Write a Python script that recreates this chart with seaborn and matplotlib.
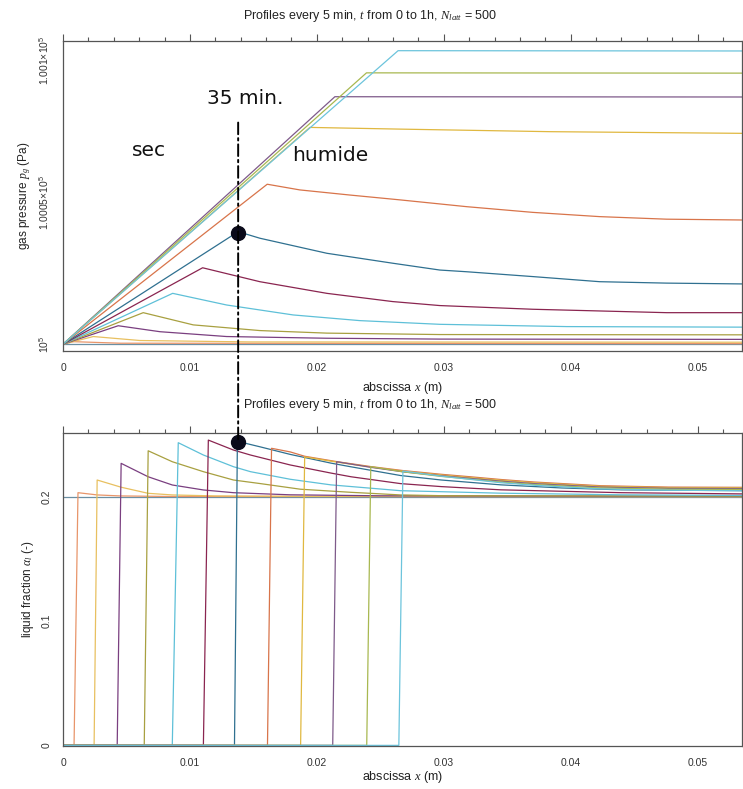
import matplotlib
matplotlib.use("Agg")
import matplotlib.pyplot as plt
from matplotlib.patches import ConnectionPatch
from matplotlib.ticker import FixedLocator, MultipleLocator
import pandas as pd
import seaborn as sns

# ---------------------------------------------------------------- data
times_min = [0, 5, 10, 15, 20, 25, 30, 35, 40, 45, 50, 55, 60]

profile_colors = ["#6b8fa3", "#e8956a", "#e8c060", "#7a3f80", "#a8a040",
                  "#5ec0d8", "#8a2550", "#2f7090", "#d8744a", "#e0b840",
                  "#7e5a8a", "#a8b850", "#6cc4dc"]

# gas pressure profiles p_g(x), one list per time
gas_x = [
    [0, 0.0538],
    [0, 0.00079, 0.00449, 0.0538],
    [0, 0.00239, 0.00606, 0.01472, 0.0538],
    [0, 0.00435, 0.00764, 0.01289, 0.02076, 0.02969, 0.0538],
    [0, 0.00632, 0.01026, 0.01551, 0.02079, 0.02969, 0.0538],
    [0, 0.00864, 0.01289, 0.01813, 0.02339, 0.02969, 0.03969, 0.0538],
    [0, 0.01100, 0.01551, 0.02079, 0.02598, 0.02969, 0.03701, 0.04756, 0.0538],
    [0, 0.01380, 0.01551, 0.02079, 0.02598, 0.02969, 0.03181, 0.03701, 0.04228, 0.04756, 0.0538],
    [0, 0.01609, 0.01866, 0.02260, 0.02654, 0.03181, 0.03701, 0.04228, 0.04756, 0.0538],
    [0, 0.01945, 0.02654, 0.03835, 0.0538],
    [0, 0.02142, 0.0538],
    [0, 0.02391, 0.0538],
    [0, 0.02640, 0.0538],
]
gas_p = [
    [100000.0, 100000.0],
    [100000.0, 100000.9, 100000.35, 100000.2],
    [100000.0, 100002.7, 100001.3, 100000.8, 100000.7],
    [100000.0, 100006.5, 100004.4, 100002.7, 100002.1, 100001.8, 100001.7],
    [100000.0, 100011.1, 100006.8, 100004.8, 100003.9, 100003.4, 100003.3],
    [100000.0, 100017.9, 100013.8, 100010.3, 100008.3, 100007.0, 100006.2, 100006.0],
    [100000.0, 100026.9, 100022.0, 100017.9, 100015.0, 100013.6, 100012.3, 100011.1, 100011.1],
    [100000.0, 100039.6, 100037.3, 100032.0, 100028.5, 100026.1, 100025.5, 100023.8, 100022.0, 100021.5, 100021.2],
    [100000.0, 100056.3, 100054.3, 100052.5, 100050.8, 100048.4, 100046.4, 100044.9, 100044.0, 100043.7],
    [100000.0, 100076.3, 100075.7, 100074.8, 100074.2],
    [100000.0, 100087.1, 100087.0],
    [100000.0, 100095.5, 100095.4],
    [100000.0, 100103.3, 100103.2],
]

# liquid fraction profiles alpha_l(x), one list per time
liq_x = [
    [0, 0.0538],
    [0, 0.00087, 0.00118, 0.0027, 0.0045, 0.008, 0.0538],
    [0, 0.00245, 0.00269, 0.00458, 0.00671, 0.0086, 0.012, 0.020, 0.0538],
    [0, 0.00427, 0.00458, 0.00671, 0.00861, 0.01106, 0.01343, 0.0179, 0.025, 0.0538],
    [0, 0.0064, 0.00671, 0.00861, 0.01106, 0.01343, 0.01556, 0.0187, 0.0227, 0.0266, 0.0298, 0.0538],
    [0, 0.00861, 0.00908, 0.01106, 0.01343, 0.01477, 0.0179, 0.0211, 0.0266, 0.0298, 0.0345, 0.044, 0.0538],
    [0, 0.01106, 0.01145, 0.01343, 0.01477, 0.0179, 0.0211, 0.0227, 0.0266, 0.0298, 0.0345, 0.044, 0.0538],
    [0, 0.01351, 0.01374, 0.01556, 0.0179, 0.0211, 0.0227, 0.0266, 0.0298, 0.0345, 0.0393, 0.044, 0.0538],
    [0, 0.01611, 0.01643, 0.0179, 0.01904, 0.02156, 0.02425, 0.02678, 0.0298, 0.0321, 0.0345, 0.0371, 0.0424, 0.0477, 0.0538],
    [0, 0.01872, 0.01904, 0.02156, 0.02425, 0.02678, 0.0298, 0.0345, 0.0371, 0.0424, 0.0477, 0.0538],
    [0, 0.02125, 0.02156, 0.02425, 0.02678, 0.0298, 0.0345, 0.0371, 0.0424, 0.0477, 0.0538],
    [0, 0.02393, 0.02425, 0.02678, 0.0298, 0.0345, 0.0371, 0.0424, 0.0477, 0.0538],
    [0, 0.02646, 0.02678, 0.0298, 0.0345, 0.0371, 0.0424, 0.0477, 0.0538],
]
liq_alpha = [
    [0.2, 0.2],
    [0, 0, 0.2032, 0.2014, 0.2006, 0.2002, 0.2000],
    [0, 0, 0.2134, 0.2076, 0.2027, 0.2014, 0.2006, 0.2002, 0.2001],
    [0, 0, 0.2268, 0.2160, 0.2094, 0.2054, 0.2032, 0.2015, 0.2007, 0.2003],
    [0, 0, 0.2369, 0.2281, 0.2201, 0.2134, 0.2105, 0.2060, 0.2035, 0.2014, 0.2008, 0.2004],
    [0, 0, 0.2434, 0.2335, 0.2241, 0.2201, 0.2140, 0.2095, 0.2048, 0.2040, 0.2028, 0.2015, 0.2010],
    [0, 0, 0.2455, 0.2375, 0.2335, 0.2255, 0.2190, 0.2160, 0.2105, 0.2081, 0.2055, 0.2032, 0.2022],
    [0, 0, 0.2445, 0.2400, 0.2340, 0.2270, 0.2240, 0.2170, 0.2134, 0.2095, 0.2070, 0.2055, 0.2048],
    [0, 0, 0.2389, 0.2360, 0.2325, 0.2282, 0.2242, 0.2210, 0.2180, 0.2160, 0.2138, 0.2118, 0.2088, 0.2077, 0.2075],
    [0, 0, 0.2320, 0.2278, 0.2238, 0.2205, 0.2174, 0.2132, 0.2112, 0.2083, 0.2073, 0.2071],
    [0, 0, 0.2281, 0.2236, 0.2200, 0.2168, 0.2125, 0.2105, 0.2077, 0.2067, 0.2065],
    [0, 0, 0.2241, 0.2200, 0.2163, 0.2118, 0.2098, 0.2070, 0.2060, 0.2058],
    [0, 0, 0.2206, 0.2165, 0.2112, 0.2092, 0.2062, 0.2052, 0.2048],
]

# the 35 min front, marked in both panels
front_x = 0.0138
front_p = 100039.3
front_alpha = 0.2443
guide_top_p = 100078.0

gas_ticks = [100000, 100050, 100100]
gas_ticklabels = [r"$10^5$", r"$1.0005{\times}10^5$", r"$1.001{\times}10^5$"]
liq_ticks = [0, 0.1, 0.2]
liq_ticklabels = ["0", "0.1", "0.2"]
x_ticks = [0, 0.01, 0.02, 0.03, 0.04, 0.05]
x_ticklabels = ["0", "0.01", "0.02", "0.03", "0.04", "0.05"]

title = r"Profiles every 5 min, $t$ from 0 to 1h, $N_{latt}$ = 500"

# ---------------------------------------------------------------- tables
def long_table(xs_list, ys_list, yname):
    rows = []
    for t, xs, ys in zip(times_min, xs_list, ys_list):
        for x, y in zip(xs, ys):
            rows.append((t, x, y))
    return pd.DataFrame(rows, columns=["t", "x", yname])

gas_df = long_table(gas_x, gas_p, "p")
liq_df = long_table(liq_x, liq_alpha, "alpha")
palette = dict(zip(times_min, profile_colors))

# ---------------------------------------------------------------- figure
sns.set_theme(style="white")
plt.rcParams["font.family"] = ["Liberation Sans", "DejaVu Sans"]
plt.rcParams["mathtext.fontset"] = "custom"
plt.rcParams["mathtext.rm"] = "Liberation Sans"
plt.rcParams["mathtext.it"] = "Liberation Serif:italic"

fig = plt.figure(figsize=(7.43, 7.89), dpi=100)
ax1 = fig.add_axes([0.0848, 0.5551, 0.9139, 0.3929])
ax2 = fig.add_axes([0.0848, 0.0545, 0.9139, 0.3967])

for ax, df, yname in ((ax1, gas_df, "p"), (ax2, liq_df, "alpha")):
    sns.lineplot(data=df, x="x", y=yname, hue="t", hue_order=times_min,
                 palette=palette, estimator=None, sort=False, legend=False,
                 linewidth=0.9, ax=ax)

ax1.set_xlim(0, 0.0535)
ax1.set_ylim(99997.6, 100106.7)
ax2.set_xlim(0, 0.0535)
ax2.set_ylim(-0.0005, 0.2512)

grey = "#555555"
for ax in (ax1, ax2):
    ax.xaxis.set_major_locator(FixedLocator(x_ticks))
    ax.set_xticklabels(x_ticklabels)
    ax.xaxis.set_minor_locator(MultipleLocator(0.002))
    ax.tick_params(which="both", direction="out", top=True, right=True,
                   color=grey, width=0.8, labelsize=7.5, labelcolor="#333333")
    ax.tick_params(which="major", length=5)
    ax.tick_params(which="minor", length=3)
    for s in ax.spines.values():
        s.set_color(grey)
        s.set_linewidth(0.9)

ax1.set_xlabel(r"abscissa $x$ (m)", fontsize=9, color="#222222", labelpad=5)
ax2.set_xlabel(r"abscissa $x$ (m)", fontsize=9, color="#222222", labelpad=1)

ax1.yaxis.set_major_locator(FixedLocator(gas_ticks))
ax1.set_yticklabels(gas_ticklabels, rotation=90, va="center")
ax1.yaxis.set_minor_locator(MultipleLocator(10))
ax1.set_ylabel(r"gas pressure $p_g$ (Pa)", fontsize=8.5, color="#222222", labelpad=4)

ax2.yaxis.set_major_locator(FixedLocator(liq_ticks))
ax2.set_yticklabels(liq_ticklabels, rotation=90, va="center")
ax2.yaxis.set_minor_locator(MultipleLocator(0.025))
ax2.set_ylabel(r"liquid fraction $\alpha_l$ (-)", fontsize=8.5, color="#222222", labelpad=4)

fig.text(0.4985, 0.980, title, ha="center", va="center", fontsize=9, color="#222222")
fig.text(0.4985, 0.487, title, ha="center", va="center", fontsize=9, color="#222222")

# annotations on the gas panel
ax1.text(0.01433, 100086.6, "35 min.", fontsize=14.5, ha="center", va="center",
         family="DejaVu Sans", color="#111111")
ax1.text(0.00677, 100068.3, "sec", fontsize=14.5, ha="center", va="center",
         family="DejaVu Sans", color="#111111")
ax1.text(0.02102, 100066.5, "humide", fontsize=14.5, ha="center", va="center",
         family="DejaVu Sans", color="#111111")

guide = ConnectionPatch(xyA=(front_x, guide_top_p), coordsA=ax1.transData,
                        xyB=(front_x, front_alpha), coordsB=ax2.transData,
                        color="black", linewidth=1.4, linestyle=(0, (6, 2, 1.2, 2)),
                        zorder=5)
fig.add_artist(guide)

ax1.plot([front_x], [front_p], marker="o", ms=10, color="#0a0a1a", zorder=6)
ax2.plot([front_x], [front_alpha], marker="o", ms=10, color="#0a0a1a", zorder=6,
         clip_on=False)

fig.savefig("out.png", dpi=100)
